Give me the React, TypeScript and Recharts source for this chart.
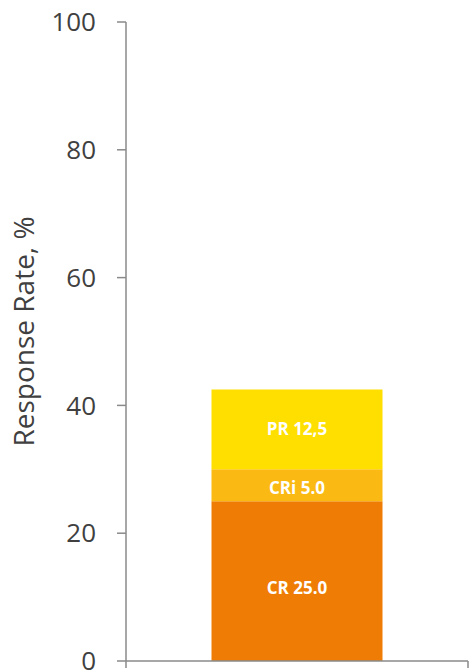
import React from "react";
import { Bar, BarChart, LabelList, XAxis, YAxis } from "recharts";

const categories = [""];
const crValues = [25.0];
const criValues = [5.0];
const prValues = [12.5];
const yTicks = [0, 20, 40, 60, 80, 100];

const crLabels = ["CR 25.0"];
const criLabels = ["CRi 5.0"];
const prLabels = ["PR 12,5"];

const data = categories.map((name, i) => ({
    name,
    cr: crValues[i],
    cri: criValues[i],
    pr: prValues[i],
    crLabel: crLabels[i],
    criLabel: criLabels[i],
    prLabel: prLabels[i],
}));

const font = '"Open Sans", sans-serif';
const axisColor = '#8a8a8a';
const plotWidth = 472 - 126 - 4;

// Excel-style category axis: tick marks at the band edges, not the centre
const EdgeTicks = (props: any) => {
    const { x, y } = props;
    const half = plotWidth / categories.length / 2;
    return (
        <g>
            <line x1={x - half} x2={x - half} y1={y} y2={y + 7} stroke={axisColor} strokeWidth={1.5} />
            <line x1={x + half} x2={x + half} y1={y} y2={y + 7} stroke={axisColor} strokeWidth={1.5} />
        </g>
    );
};

const YLabel = (props: any) => {
    const vb = props.viewBox || { x: 0, y: 22, height: 639 };
    const cx = vb.x + 23;
    const cy = vb.y + vb.height / 2 - 10;
    return (
        <text
            x={cx}
            y={cy}
            transform={`rotate(-90, ${cx}, ${cy})`}
            textAnchor="middle"
            dominantBaseline="central"
            fill="#404040"
            fontSize={28}
            fontFamily={font}
        >
            Response Rate, %
        </text>
    );
};

const labelStyle = { fill: '#ffffff', fontWeight: 700, fontSize: 17, fontFamily: font };

export default function App() {
    return (
        <div style={{ position: 'absolute', left: 0, top: 0, width: 472, height: 670, background: '#fff' }}>
            <BarChart
                width={472}
                height={670}
                data={data}
                barCategoryGap="25%"
                margin={{ top: 22, right: 4, bottom: 0, left: 0 }}
            >
                <XAxis
                    dataKey="name"
                    height={9}
                    axisLine={{ stroke: axisColor, strokeWidth: 1.5 }}
                    tickLine={false}
                    tickSize={0}
                    tickMargin={0}
                    tick={<EdgeTicks />}
                    interval={0}
                />
                <YAxis
                    type="number"
                    domain={[0, 100]}
                    ticks={yTicks}
                    interval={0}
                    width={126}
                    axisLine={{ stroke: axisColor, strokeWidth: 1.5 }}
                    tickLine={{ stroke: axisColor, strokeWidth: 1.5 }}
                    tickSize={9}
                    tickMargin={21}
                    tick={{ fill: '#404040', fontSize: 26, fontFamily: font }}
                    label={<YLabel />}
                />
                <Bar dataKey="cr" stackId="a" fill="#EF7D05" isAnimationActive={false}>
                    <LabelList dataKey="crLabel" position="center" dy={7} style={labelStyle} />
                </Bar>
                <Bar dataKey="cri" stackId="a" fill="#FBBA13" isAnimationActive={false}>
                    <LabelList dataKey="criLabel" position="center" dy={3} style={labelStyle} />
                </Bar>
                <Bar dataKey="pr" stackId="a" fill="#FFDF00" isAnimationActive={false}>
                    <LabelList dataKey="prLabel" position="center" style={labelStyle} />
                </Bar>
            </BarChart>
        </div>
    );
}
